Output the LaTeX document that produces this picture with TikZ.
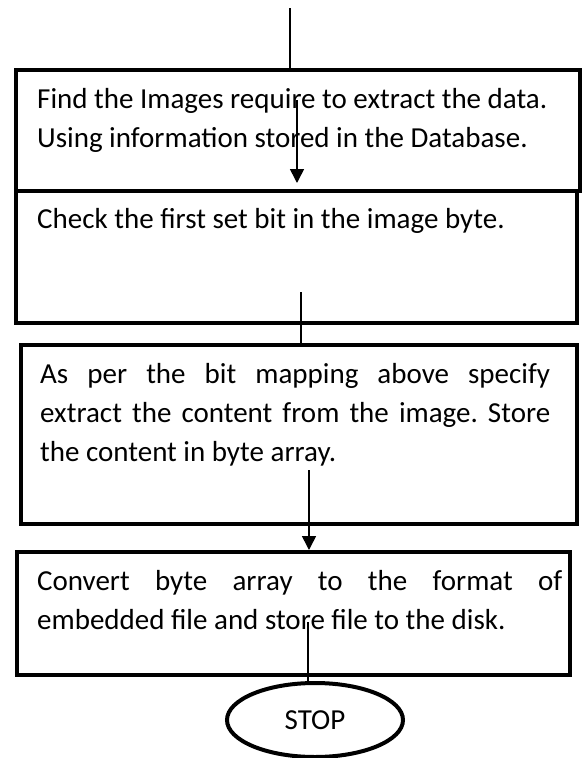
\documentclass[tikz,border=0pt]{standalone}
\usepackage{fontspec}
\setmainfont{Carlito}
\usetikzlibrary{arrows.meta,positioning,shapes.geometric}

\begin{document}
\frenchspacing
\begin{tikzpicture}[x=1pt, y=-1pt, >={Triangle[width=14pt,length=14pt]},
  font=\fontsize{29}{39}\selectfont,
  box/.style={draw, line width=4pt, rectangle, anchor=north west, inner sep=0pt},
  txt/.style={anchor=base west, inner sep=0pt},
  ln/.style={line width=1.6pt}]
  \useasboundingbox (0,0) rectangle (582,758);
  % boxes
  \node[box, minimum width=564pt, minimum height=121pt] (b1) at (14,68) {};
  \node[box, minimum width=561pt, minimum height=132pt] (b2) at (14,189) {};
  \node[box, minimum width=556pt, minimum height=179pt] (b3) at (19,343) {};
  \node[box, minimum width=553pt, minimum height=123pt] (b4) at (15,550) {};
  \node[draw, ellipse, line width=4pt, minimum width=176pt, minimum height=74pt] (stop) at (315,720) {STOP};
  % texts
  \node[txt, text width=535pt, align=flush left] (t1) at (37,108) {Find the Images require to extract the data.\\Using information stored in the Database.};
  \node[txt, text width=535pt, align=flush left] (t2) at (37,228) {Check the first set bit in the image byte.};
  \node[txt, text width=510pt, align=justify] (t3) at (40,383) {As per the bit mapping above specify\linebreak extract the content from the image. Store\linebreak the content in byte array.};
  \node[txt, text width=525pt, align=justify] (t4) at (37,590) {Convert byte array to the format of\linebreak embedded file and store file to the disk.};
  % connectors
  \coordinate (in) at (290,8);
  \coordinate (c1) at (297,100);
  \coordinate (c2) at (301,292);
  \coordinate (c3) at (309,470);
  \coordinate (c4) at (308,622);
  \draw[ln] (in) -- (in |- b1.north);
  \draw[ln, ->, shorten >=6pt] (c1) -- (c1 |- b2.north);
  \draw[ln] (c2) -- (c2 |- b3.north);
  \draw[ln, ->] (c3) -- (c3 |- b4.north);
  \draw[ln] (c4) -- (c4 |- stop.north);
\end{tikzpicture}
\end{document}
